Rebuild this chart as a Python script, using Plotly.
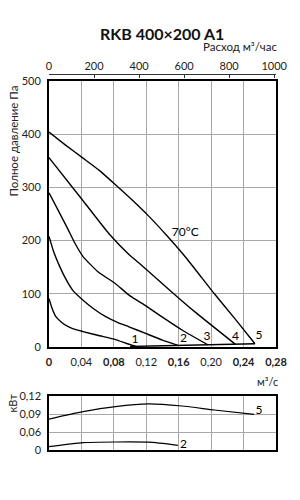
import plotly.graph_objects as go

# ---- data (main chart: total pressure, Pa vs flow, m3/s) ----
q1 = [0, 0.004, 0.0085, 0.015, 0.0215, 0.03, 0.042, 0.06, 0.082, 0.095, 0.107]
p1 = [91, 72, 57, 47, 40, 34, 29, 22, 14, 7, 1]

q2 = [0, 0.006, 0.013, 0.02, 0.0296, 0.042, 0.055, 0.07, 0.085, 0.0986, 0.12, 0.14, 0.159]
p2 = [208, 178, 152, 130, 106, 88, 72, 57, 46, 38, 25, 13, 3]

q3 = [0, 0.012, 0.0235, 0.032, 0.042, 0.06, 0.082, 0.10, 0.12, 0.139, 0.165, 0.196]
p3 = [290, 255, 221, 195, 170, 142, 119, 96, 77, 57, 31, 4]

q4 = [0, 0.042, 0.074, 0.0986, 0.111, 0.151, 0.180, 0.230]
p4 = [356, 275, 213, 174, 158, 104, 66, 5]

q5 = [0, 0.02, 0.042, 0.062, 0.082, 0.10, 0.123, 0.145, 0.17, 0.204, 0.23, 0.254]
p5 = [404, 380, 355, 332, 305, 280, 246, 210, 166, 100, 52, 6]

base_q = [0.10, 0.254]
base_p = [1, 6]

curve_labels = ["1", "2", "3", "4", "5"]
label_q = [0.106, 0.166, 0.195, 0.230, 0.259]
label_p = [13, 15, 18, 18, 20]

x_ticks = [0, 0.04, 0.08, 0.12, 0.16, 0.20, 0.24, 0.28]
x_ticktext = ["<b>0</b>", "0,04", "<b>0,08</b>", "0,12", "<b>0,16</b>", "0,20", "<b>0,24</b>", "<b>0,28</b>"]
y_ticks = [0, 100, 200, 300, 400, 500]
top_ticks = [0, 200, 400, 600, 800, 1000]

# ---- data (power chart, kW) ----
pw5_q = [0, 0.042, 0.082, 0.123, 0.164, 0.204, 0.253]
pw5 = [0.0816, 0.0939, 0.1023, 0.1068, 0.1033, 0.0967, 0.0894]
pw2_q = [0, 0.042, 0.082, 0.123, 0.159]
pw2 = [0.0111, 0.0244, 0.0267, 0.026, 0.0157]
pw_tickvals = [0, 0.06, 0.09, 0.12]
pw_ticktext = ["0", "0,06", "0,09", "0,12"]


def pw_pos(v):
    # broken power axis: 0..0.06 occupies one step, then 0.03 per step
    return v / 0.06 if v < 0.06 else 1 + (v - 0.06) / 0.03


FONT = "Lato"
W, H = 300, 500
ML, MR, MT, MB = 49, 21, 60, 40
PH = H - MT - MB
PW = W - ML - MR


def py(px):
    return (H - MB - px) / PH


def pxx(px):
    return (px - ML) / PW


fig = go.Figure()
line = dict(color="black", width=1.4)
for q, p in [(q1, p1), (q2, p2), (q3, p3), (q4, p4), (q5, p5)]:
    fig.add_trace(go.Scatter(x=q, y=p, mode="lines", line=dict(line, shape="spline", smoothing=0.5),
                             xaxis="x", yaxis="y", showlegend=False, hoverinfo="skip"))
fig.add_trace(go.Scatter(x=base_q, y=base_p, mode="lines", line=line,
                         xaxis="x", yaxis="y", showlegend=False, hoverinfo="skip"))
fig.add_trace(go.Scatter(x=label_q, y=label_p, mode="text", text=curve_labels,
                         textfont=dict(family=FONT, size=12, color="black"),
                         xaxis="x", yaxis="y", showlegend=False, hoverinfo="skip"))
fig.add_trace(go.Scatter(x=[0.168], y=[214], mode="text", text=["70°C"],
                         textfont=dict(family=FONT, size=12, color="black"),
                         xaxis="x", yaxis="y", showlegend=False, hoverinfo="skip"))
# top axis carrier
fig.add_trace(go.Scatter(x=top_ticks, y=[None] * len(top_ticks), mode="lines",
                         xaxis="x3", yaxis="y", showlegend=False, hoverinfo="skip"))

# power curves
fig.add_trace(go.Scatter(x=pw5_q, y=[pw_pos(v) for v in pw5], mode="lines",
                         line=dict(color="black", width=1.2, shape="spline", smoothing=0.6),
                         xaxis="x2", yaxis="y2", showlegend=False, hoverinfo="skip"))
fig.add_trace(go.Scatter(x=pw2_q, y=[pw_pos(v) for v in pw2], mode="lines",
                         line=dict(color="black", width=1.2, shape="spline", smoothing=0.6),
                         xaxis="x2", yaxis="y2", showlegend=False, hoverinfo="skip"))
fig.add_trace(go.Scatter(x=[0.259, 0.166], y=[pw_pos(0.095), pw_pos(0.016)], mode="text",
                         text=["5", "2"], textfont=dict(family=FONT, size=12, color="black"),
                         xaxis="x2", yaxis="y2", showlegend=False, hoverinfo="skip"))

grid = "#a8a8a8"
tickfont = dict(family=FONT, size=11, color="#222")
fig.update_layout(
    width=W, height=H,
    margin=dict(l=ML, r=MR, t=MT, b=MB),
    paper_bgcolor="white", plot_bgcolor="white",
    font=dict(family=FONT, color="#222"),
    xaxis=dict(domain=[0, 1], range=[0, 0.28], anchor="y", tickvals=x_ticks, ticktext=x_ticktext,
               tickfont=tickfont, showgrid=True, gridcolor=grid, gridwidth=1,
               showline=True, linecolor="black", linewidth=2, mirror=True, ticks="",
               zeroline=False, ticklabelstandoff=4),
    yaxis=dict(domain=[py(347), py(81)], range=[0, 500], tickvals=y_ticks, tickfont=tickfont,
               showgrid=True, gridcolor=grid, gridwidth=1, showline=True, linecolor="black",
               linewidth=2, mirror=True, ticks="", zeroline=False, ticklabelstandoff=4),
    xaxis2=dict(domain=[0, 1], range=[0, 0.28], anchor="y2", tickvals=x_ticks, showticklabels=False,
                showgrid=True, gridcolor=grid, gridwidth=1, showline=True, linecolor="black",
                linewidth=1.5, mirror=True, ticks="", zeroline=False),
    yaxis2=dict(domain=[py(450), py(396)], range=[0, 3], anchor="x2",
                tickvals=[pw_pos(v) for v in pw_tickvals], ticktext=pw_ticktext, tickfont=tickfont,
                showgrid=True, gridcolor=grid, gridwidth=1, showline=True, linecolor="black",
                linewidth=1.5, mirror=True, ticks="", zeroline=False, ticklabelstandoff=4),
    xaxis3=dict(overlaying="x", side="top", anchor="free", position=py(74),
                range=[0, 0.28 * 3600], tickvals=top_ticks, tickfont=tickfont,
                showgrid=False, showline=True, linecolor="#333", linewidth=1,
                ticks="inside", ticklen=3, tickcolor="#333", zeroline=False),
)

ann = [
    dict(text="<b>RKB 400×200 A1</b>", x=pxx(163), y=py(33), font=dict(family=FONT, size=16, color="#111")),
    dict(text="Расход м³/час", x=pxx(243), y=py(46), font=dict(family=FONT, size=11.5, color="#222")),
    dict(text="Полное давление Па", x=pxx(13), y=py(141), textangle=-90,
         font=dict(family=FONT, size=11.5, color="#222")),
    dict(text="м³/с", x=pxx(270), y=py(381), font=dict(family=FONT, size=11, color="#222")),
    dict(text="кВт", x=pxx(12), y=py(403), textangle=-90, font=dict(family=FONT, size=11, color="#222")),
]
for a in ann:
    fig.add_annotation(xref="paper", yref="paper", showarrow=False, xanchor="center", yanchor="middle", **a)

fig.write_html("out.html")
